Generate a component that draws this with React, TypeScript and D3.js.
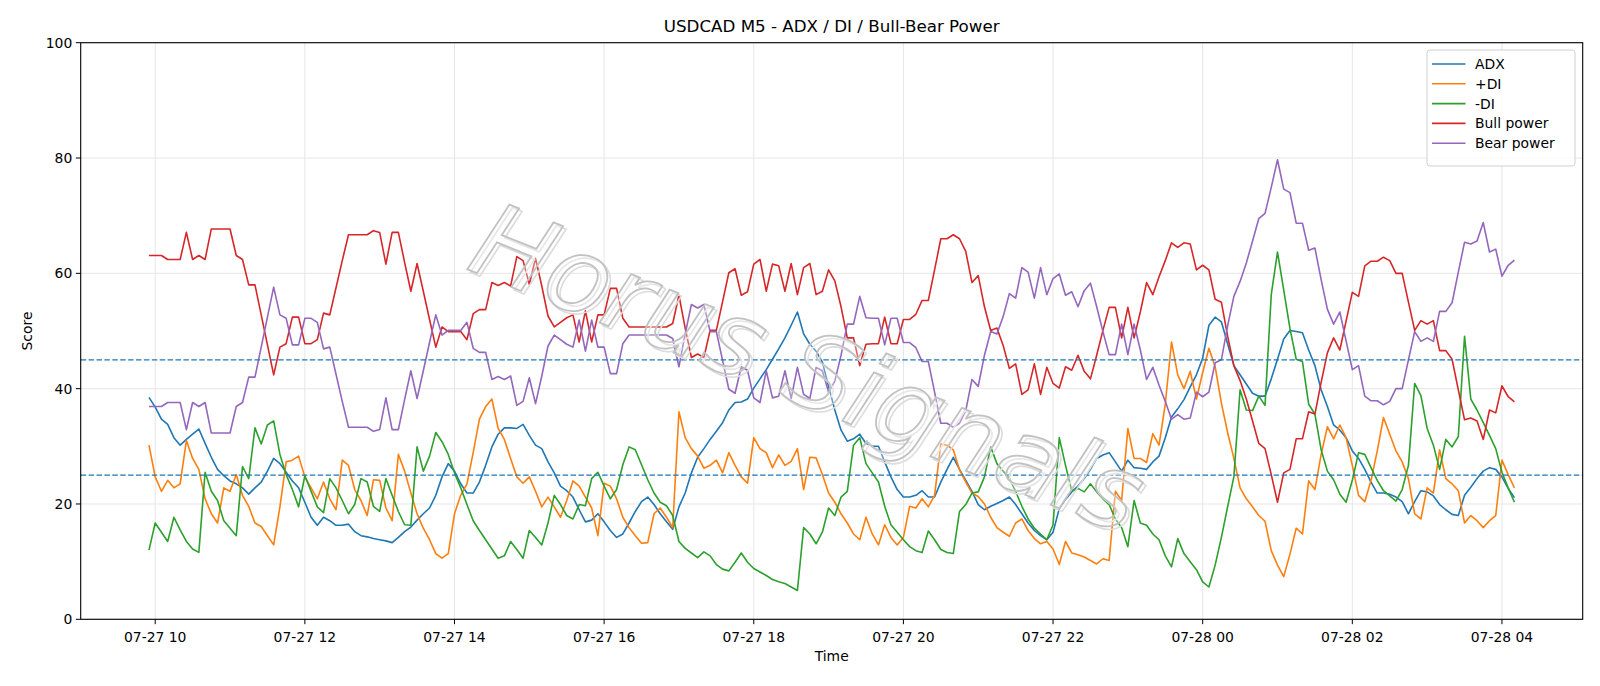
import { useEffect, useRef } from "react";
import * as d3 from "d3";

// 5-minute bars, first bar 07-27 09:55
const START = Date.UTC(2023, 6, 27, 9, 55);
const STEP_MIN = 5;

const adx = [
  38.5, 36.8, 34.7, 33.8, 31.5, 30.2, 31.2, 32.1, 33, 30.5,
  28.1, 26, 24.9, 24, 23.5, 22.8, 21.7, 22.8, 23.8, 25.7,
  27.9, 27, 25.5, 24, 22.8, 20.3, 17.7, 16.3, 17.7, 17.1,
  16.3, 16.3, 16.5, 15.2, 14.5, 14.3, 14, 13.8, 13.6, 13.3,
  14.2, 15.2, 16, 17.2, 18.3, 19.3, 21.5, 24.7, 27, 25.7,
  23.5, 21.9, 21.9, 23.8, 26.7, 29.9, 32.1, 33.2, 33.2, 33.1,
  33.8, 31.9, 30.2, 29.6, 27.3, 25.4, 23.1, 22.3, 21.2, 19,
  16.9, 17.2, 18.3, 16.9, 15.4, 14.2, 14.8, 16.7, 18.7, 20.4,
  21.2, 19.9, 18.3, 16.9, 15.6, 19.5, 21.9, 25.4, 28.1, 29.6,
  31.2, 32.6, 34.1, 36.3, 37.6, 37.7, 38.2, 40.1, 41.7, 43.3,
  45.1, 46.9, 48.8, 51, 53.3, 49.5, 47.7, 46.5, 44.6, 40.4,
  36.3, 32.8, 30.9, 31.3, 32.1, 30.5, 30, 30, 27.3, 24.7,
  22.5, 21.2, 21.2, 21.5, 22.3, 21.2, 21.2, 23.8, 26, 28.1,
  26, 24.1, 22.2, 19.9, 19, 19.6, 20.1, 20.6, 21.2, 19.9,
  18.3, 16.7, 15.4, 14.5, 13.8, 15.1, 19.2, 20.8, 22.1, 23.1,
  24.4, 26, 27.9, 28.5, 28.9, 27.3, 25.7, 27.6, 26.3, 26.2,
  26, 27.3, 28.3, 31.5, 35.1, 36.5, 38.1, 40.3, 42.4, 45.3,
  51, 52.4, 51.6, 47.8, 44, 42.4, 40.8, 39.2, 38.7, 38.7,
  41.7, 45.1, 48.6, 50.1, 49.9, 49.7, 46.7, 44, 39.8, 36.9,
  33.7, 32.8, 31.5, 29.2, 27.9, 26, 23.8, 21.9, 21.9, 21.7,
  21.2, 20.4, 18.3, 20.4, 22.3, 22.1, 21.4, 19.9, 19, 18.2,
  18, 21.5, 22.9, 24.4, 25.7, 26.3, 26, 24.7, 22.7, 21.1,
];

const plusDi = [
  30.2, 24.7, 22.2, 24.1, 22.8, 23.5, 31, 27.9, 26, 20.9,
  18.3, 16.7, 22.8, 22.2, 25.1, 21.5, 19.6, 16.7, 16.1, 14.5,
  12.9, 19.5, 27.3, 27.6, 28.3, 24.7, 22.8, 20.9, 23.8, 20.9,
  19, 27.6, 26.7, 22.5, 20.6, 18, 24.2, 24.1, 19.3, 17.1,
  28.6, 25.7, 21.9, 18.3, 15.8, 13.8, 11.4, 10.6, 11.4, 18.3,
  21.5, 23.5, 28.9, 34.7, 36.9, 38.2, 33.1, 31.2, 27.9, 24.7,
  23.6, 24.7, 22.2, 19.5, 21.2, 19.5, 17.7, 20.6, 24, 23.1,
  21.2, 19.3, 14.5, 23.6, 23.1, 20.9, 17.7, 15.9, 14.5, 13.2,
  13.3, 18.3, 19.3, 17.7, 15.9, 36, 31.5, 29.6, 28.3, 26.2,
  26.7, 27.6, 25.4, 28.9, 26.7, 24.7, 23.6, 31.5, 29.6, 28.9,
  26.3, 28.5, 26.7, 27.4, 29.6, 22.5, 28.1, 28, 25.1, 21.9,
  20.3, 18.3, 16.7, 14.8, 13.8, 17.7, 14.8, 12.9, 16.4, 14.2,
  12.9, 14.2, 19.6, 19.3, 20.9, 19.5, 21.5, 30.4, 30.2, 29.4,
  25.9, 23.8, 21.9, 21.3, 20, 17.7, 15.9, 15.1, 14.4, 16.7,
  17.4, 15.4, 14, 13.1, 13.5, 12.2, 9.5, 13.5, 11.5, 11.2,
  10.8, 10.2, 9.6, 10.5, 10.2, 22.2, 20.6, 33.1, 27.9, 27.9,
  27.2, 32.2, 30.2, 37.3, 48.1, 42.4, 40, 43, 38.2, 42.8,
  47, 43.8, 37.5, 32.4, 27.9, 22.8, 20.9, 19.5, 18, 17,
  11.9, 9.4, 7.4, 11.3, 15.8, 14.8, 24, 22.5, 28.6, 33.4,
  31.3, 33.7, 31.5, 26.7, 21.5, 20.4, 24.1, 29.2, 35, 32.1,
  29.2, 27.3, 24.4, 18.3, 17.4, 22.8, 21.9, 29.4, 24.4, 23.5,
  22.3, 16.7, 18, 17.1, 15.9, 17.1, 18, 27.6, 25.1, 22.8,
];

const minusDi = [
  12, 16.7, 15.1, 13.5, 17.7, 15.5, 13.5, 12.2, 11.6, 25.5,
  22.2, 20.6, 17.1, 15.8, 14.5, 26.5, 24.4, 33.2, 30.4, 33.7,
  34.4, 28.6, 25.1, 22.5, 19.5, 24.9, 22.2, 19.5, 18.5, 24.4,
  22.8, 20.6, 18.3, 19.9, 24.4, 23.8, 19.6, 18.7, 24.4, 21.5,
  18.7, 16.4, 16.3, 29.9, 25.7, 28.3, 32.4, 30.8, 28.6, 25.4,
  22.8, 19.9, 17.1, 15.4, 13.8, 12.2, 10.6, 11, 13.5, 12.1,
  10.6, 15.4, 14.2, 12.9, 16.7, 21.5, 19.9, 18, 17.4, 19.9,
  19.7, 24.4, 25.5, 23.1, 20.9, 22.5, 26.8, 29.9, 29.4, 26.8,
  24.2, 21.9, 20.3, 19.7, 18, 13.5, 12.3, 11.5, 10.7, 11.7,
  11, 9.5, 8.7, 8.4, 9.9, 11.5, 9.9, 8.8, 8.2, 7.6,
  6.9, 6.5, 6.2, 5.6, 5, 15.9, 14.8, 13.1, 15.1, 19.3,
  18, 21.2, 22.2, 30.2, 31.5, 27, 25.4, 23.8, 19.6, 16.4,
  15.1, 13.8, 12.6, 11.9, 11.6, 15.3, 13.8, 12.1, 11.6, 11.4,
  18.7, 19.9, 21.9, 22.1, 24.7, 29.9, 27, 25.7, 24.4, 22.2,
  19.6, 17.4, 15.8, 14.8, 13.8, 16.4, 31.5, 26.7, 22.3, 22.7,
  22.1, 23.5, 22.1, 20.9, 19.9, 17.4, 15.9, 12.6, 20.6, 16.7,
  16.3, 14.8, 13.8, 11, 9.1, 14, 11.4, 10, 8.6, 6.5,
  5.6, 9.4, 14.2, 19.5, 24.7, 39.8, 36.3, 36.2, 38.7, 37.1,
  56.3, 63.7, 57.1, 50.4, 45.1, 44.7, 37.3, 35.6, 29.4, 25.7,
  24.2, 21.7, 20.3, 24.1, 28.9, 28.6, 26.3, 24.1, 22.3, 21.4,
  20.5, 22.5, 26.7, 40.9, 38.8, 33.1, 30.2, 26, 31.2, 29.9,
  31.7, 49.1, 38.2, 36.3, 34.1, 31.9, 29.6, 25.5, 22.8, 20.3,
];

const bullPower = [
  63.1, 63.1, 63.1, 62.4, 62.4, 62.4, 67.1, 62.4, 63.1, 62.4,
  67.7, 67.7, 67.7, 67.7, 63.1, 62.4, 58, 58, 52.8, 47.6,
  42.4, 47.2, 47.8, 52.4, 52.4, 47.8, 47.8, 48.5, 53.1, 52.8,
  57.5, 62.2, 66.7, 66.7, 66.7, 66.7, 67.4, 67.1, 61.6, 67.1,
  67.1, 61.9, 56.9, 61.7, 56.9, 52, 47.2, 50.7, 49.9, 49.9,
  49.9, 48.5, 53, 53.7, 53.7, 58.4, 57.9, 58.4, 57.8, 62.9,
  62.2, 58.1, 62.6, 57.8, 52.6, 50.7, 51.5, 52.3, 52.8, 48.1,
  53.5, 48.1, 52.8, 52.8, 57.4, 57.4, 52.2, 50.7, 50.7, 50.7,
  50.7, 50.7, 50.7, 50.7, 51.3, 56.2, 50.5, 45.4, 46, 45.4,
  50.1, 50.1, 55.1, 60.1, 60.8, 56.2, 56.8, 61.6, 62.4, 56.9,
  61.6, 61.3, 56.9, 61.7, 56.3, 61, 61.7, 56.3, 56.9, 60.6,
  58.7, 54.2, 48.8, 48.8, 44, 47.7, 47.8, 47.8, 52.4, 47.8,
  47.8, 52, 52, 52.9, 55.3, 55.3, 60.6, 66, 66, 66.7,
  66, 63.8, 58.4, 59.6, 54.2, 50.1, 50.5, 47.5, 43.5, 44.3,
  39, 39.8, 44.3, 39, 43.7, 40.9, 40.1, 43.8, 43.2, 45.8,
  43, 41.7, 45.8, 50.1, 54.1, 54.1, 48.8, 54.1, 48.8, 53.3,
  58.4, 56.3, 59.4, 62.2, 65.3, 64.5, 65.3, 65.1, 60.6, 61.4,
  60.6, 55.5, 55, 49.1, 44, 41.4, 38.2, 34.4, 30.5, 29.6,
  25.1, 20.3, 25.4, 26, 31.3, 31.3, 36, 35.6, 41.1, 46.2,
  48.8, 46.7, 51.7, 56.7, 56, 61.3, 62.1, 62.1, 62.8, 62.2,
  60, 60, 55, 50.1, 51.8, 51.2, 51.8, 46.6, 46.6, 45.1,
  39.8, 34.6, 34.9, 34.4, 31.2, 36.3, 35.8, 40.5, 38.6, 37.7,
];

const bearPower = [
  36.9, 36.9, 36.9, 37.6, 37.6, 37.6, 32.9, 37.6, 36.9, 37.6,
  32.3, 32.3, 32.3, 32.3, 36.9, 37.6, 42, 42, 47.2, 52.4,
  57.6, 52.8, 52.2, 47.6, 47.6, 52.2, 52.2, 51.5, 46.9, 47.2,
  42.5, 37.8, 33.3, 33.3, 33.3, 33.3, 32.6, 32.9, 38.4, 32.9,
  32.9, 38.1, 43.1, 38.3, 43.1, 48, 52.8, 49.3, 50.1, 50.1,
  50.1, 51.5, 47, 46.3, 46.3, 41.6, 42.1, 41.6, 42.2, 37.1,
  37.8, 41.9, 37.4, 42.2, 47.4, 49.3, 48.5, 47.7, 47.2, 51.9,
  46.5, 51.9, 47.2, 47.2, 42.6, 42.6, 47.8, 49.3, 49.3, 49.3,
  49.3, 49.3, 49.3, 49.3, 48.7, 43.8, 49.5, 54.6, 54, 54.6,
  49.9, 49.9, 44.9, 39.9, 39.2, 43.8, 43.2, 38.4, 37.6, 43.1,
  38.4, 38.7, 43.1, 38.3, 43.7, 39, 38.3, 43.7, 43.1, 39.4,
  41.3, 45.8, 51.2, 51.2, 56, 52.3, 52.2, 52.2, 47.6, 52.2,
  52.2, 48, 48, 47.1, 44.7, 44.7, 39.4, 34, 34, 33.3,
  34, 36.2, 41.6, 40.4, 45.8, 49.9, 49.5, 52.5, 56.5, 55.7,
  61, 60.2, 55.7, 61, 56.3, 59.1, 59.9, 56.2, 56.8, 54.2,
  57, 58.3, 54.2, 49.9, 45.9, 45.9, 51.2, 45.9, 51.2, 46.7,
  41.6, 43.7, 40.6, 37.8, 34.7, 35.5, 34.7, 34.9, 39.4, 38.6,
  39.4, 44.5, 45, 50.9, 56, 58.6, 61.8, 65.6, 69.5, 70.4,
  74.9, 79.7, 74.6, 74, 68.7, 68.7, 64, 64.4, 58.9, 53.8,
  51.2, 53.3, 48.3, 43.3, 44, 38.7, 37.9, 37.9, 37.2, 37.8,
  40, 40, 45, 49.9, 48.2, 48.8, 48.2, 53.4, 53.4, 54.9,
  60.2, 65.4, 65.1, 65.6, 68.8, 63.7, 64.2, 59.5, 61.4, 62.3,
];

const seriesNames = ["ADX", "+DI", "-DI", "Bull power", "Bear power"];
const seriesColors = ["#1f77b4", "#ff7f0e", "#2ca02c", "#d62728", "#9467bd"];
const levelLines = [45, 25];
const yTicks = [0, 20, 40, 60, 80, 100];

const W = 1600;
const H = 686;
const FONT = "DejaVu Sans, sans-serif";

function renderChart(el: SVGSVGElement) {
  const margin = { top: 42.7, right: 17.3, bottom: 66.7, left: 80.7 };
  const svg = d3.select(el);
  svg.selectAll("*").remove();
  svg.attr("width", W).attr("height", H).attr("viewBox", `0 0 ${W} ${H}`);
  svg.append("rect").attr("width", W).attr("height", H).attr("fill", "#fff");

  const series = [adx, plusDi, minusDi, bullPower, bearPower];
  const times = adx.map((_, i) => new Date(START + i * STEP_MIN * 60000));
  const t0 = +times[0];
  const t1 = +times[times.length - 1];
  const pad = (t1 - t0) * 0.05;

  const x = d3
    .scaleUtc()
    .domain([new Date(t0 - pad), new Date(t1 + pad)])
    .range([margin.left, W - margin.right]);
  const y = d3.scaleLinear().domain([0, 100]).range([H - margin.bottom, margin.top]);

  const x0 = margin.left,
    x1 = W - margin.right,
    y0 = H - margin.bottom,
    y1 = margin.top;
  const xTicks = x.ticks(d3.utcHour.every(2)!);
  const fmt = d3.utcFormat("%m-%d %H");

  // grid
  const grid = svg.append("g").attr("stroke", "#e6e6e6").attr("stroke-width", 1);
  xTicks.forEach((t) => {
    grid.append("line").attr("x1", x(t)).attr("x2", x(t)).attr("y1", y0).attr("y2", y1);
  });
  yTicks.forEach((v) => {
    grid.append("line").attr("x1", x0).attr("x2", x1).attr("y1", y(v)).attr("y2", y(v));
  });

  // series lines
  const line = d3
    .line<number>()
    .x((_, i) => x(times[i]))
    .y((d) => y(d));
  series.forEach((vals, k) => {
    svg
      .append("path")
      .datum(vals)
      .attr("d", line)
      .attr("fill", "none")
      .attr("stroke", seriesColors[k])
      .attr("stroke-width", 1.6)
      .attr("stroke-linejoin", "round");
  });

  // reference levels
  levelLines.forEach((v) => {
    svg
      .append("line")
      .attr("x1", x0)
      .attr("x2", x1)
      .attr("y1", y(v))
      .attr("y2", y(v))
      .attr("stroke", "#1f77b4")
      .attr("stroke-width", 1.3)
      .attr("stroke-dasharray", "5.5,2.4");
  });

  // frame
  svg
    .append("rect")
    .attr("x", x0)
    .attr("y", y1)
    .attr("width", x1 - x0)
    .attr("height", y0 - y1)
    .attr("fill", "none")
    .attr("stroke", "#000")
    .attr("stroke-width", 1.1);

  // ticks and labels
  const ax = svg.append("g").attr("font-family", FONT).attr("font-size", 13.9).attr("fill", "#000");
  xTicks.forEach((t) => {
    ax.append("line").attr("x1", x(t)).attr("x2", x(t)).attr("y1", y0).attr("y2", y0 + 4.9).attr("stroke", "#000");
    ax.append("text").attr("x", x(t)).attr("y", y0 + 22.3).attr("text-anchor", "middle").text(fmt(t));
  });
  yTicks.forEach((v) => {
    ax.append("line").attr("x1", x0 - 4.9).attr("x2", x0).attr("y1", y(v)).attr("y2", y(v)).attr("stroke", "#000");
    ax.append("text").attr("x", x0 - 8.4).attr("y", y(v) + 5).attr("text-anchor", "end").text(v);
  });
  ax.append("text")
    .attr("x", (x0 + x1) / 2)
    .attr("y", 661)
    .attr("text-anchor", "middle")
    .text("Time");
  ax.append("text")
    .attr("transform", `translate(32,${(y0 + y1) / 2}) rotate(-90)`)
    .attr("text-anchor", "middle")
    .text("Score");

  svg
    .append("text")
    .attr("x", (x0 + x1) / 2)
    .attr("y", 31.5)
    .attr("text-anchor", "middle")
    .attr("font-family", FONT)
    .attr("font-size", 16.7)
    .text("USDCAD M5 - ADX / DI / Bull-Bear Power");

  // legend
  const lg = svg.append("g").attr("transform", "translate(1427,50)");
  lg.append("rect")
    .attr("width", 148)
    .attr("height", 116)
    .attr("rx", 3)
    .attr("fill", "#fff")
    .attr("fill-opacity", 0.8)
    .attr("stroke", "#d0d0d0");
  seriesNames.forEach((name, k) => {
    const ly = 14 + k * 19.8;
    lg.append("line")
      .attr("x1", 5)
      .attr("x2", 38.5)
      .attr("y1", ly)
      .attr("y2", ly)
      .attr("stroke", seriesColors[k])
      .attr("stroke-width", 1.6);
    lg.append("text")
      .attr("x", 48)
      .attr("y", ly + 5)
      .attr("font-family", FONT)
      .attr("font-size", 13.9)
      .text(name);
  });

  // watermark: soft shadow outline under a light outlined text
  const wm = svg
    .append("g")
    .attr("font-family", FONT)
    .attr("font-style", "italic")
    .attr("font-size", 104)
    .attr("text-anchor", "middle")
    .attr("dominant-baseline", "central");
  wm.append("text")
    .attr("transform", "translate(811,371) rotate(22)")
    .attr("fill", "none")
    .attr("stroke", "#dcdcdc")
    .attr("stroke-width", 1.6)
    .text("Horus Signals");
  wm.append("text")
    .attr("transform", "translate(808,368) rotate(22)")
    .attr("fill", "#fff")
    .attr("fill-opacity", 0.3)
    .attr("stroke", "#c2c2c2")
    .attr("stroke-width", 1.8)
    .text("Horus Signals");
}

export default function App() {
  const ref = useRef<SVGSVGElement>(null);

  useEffect(() => {
    if (ref.current) renderChart(ref.current);
  }, []);

  return (
    <div style={{ position: "absolute", left: 0, top: 0 }}>
      <svg ref={ref} />
    </div>
  );
}
